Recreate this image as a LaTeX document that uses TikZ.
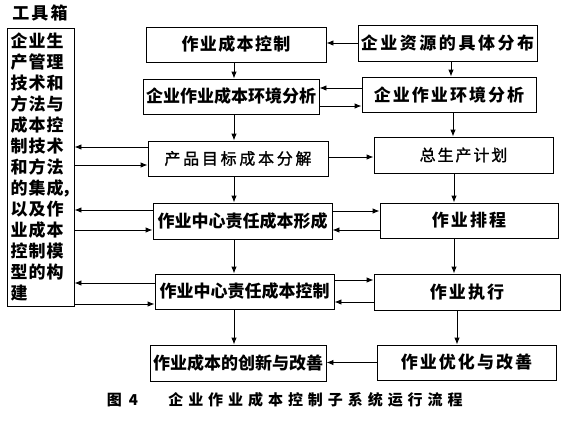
\documentclass[tikz,border=0pt]{standalone}
\usepackage{fontspec}
\setmainfont{Noto Sans CJK SC}
\newfontfamily\medfont{Noto Sans CJK SC}[FakeBold=1.2]
\usetikzlibrary{arrows.meta}
\newcommand\ls[2]{{\addfontfeature{LetterSpace=#1}#2}}
\begin{document}
\begin{tikzpicture}[x=1pt,y=-1pt,
  box/.style={draw, line width=0.9pt, inner sep=0pt, font=\bfseries\fontsize{17}{17}\selectfont},
  lbox/.style={box, font=\medfont\fontsize{16}{16}\selectfont},
  arr/.style={line width=0.9pt, -{Latex[length=7pt,width=5.5pt]}},
]
\useasboundingbox (0,0) rectangle (570,421);
% title
\node[font=\bfseries\fontsize{17}{17}\selectfont, inner sep=0pt] (title) at (40,13) {\ls{12}{工具箱}};
% toolbox
\node[box, minimum width=67pt, minimum height=278pt, text width=60pt, align=left,
      font=\bfseries\fontsize{17}{21}\selectfont] (tool) at (40.5,167)
 {\ls{6}{企业生}\\\ls{6}{产管理}\\\ls{6}{技术和}\\\ls{6}{方法与}\\\ls{6}{成本控}\\\ls{6}{制技术}\\\ls{6}{和方法}\\\ls{6}{的集成}\rlap{\kern-2pt，}\\\ls{6}{以及作}\\\ls{6}{业成本}\\\ls{6}{控制模}\\\ls{6}{型的构}\\建};
% boxes
\node[box, minimum width=180pt, minimum height=35pt] (b1) at (236,44.5) {\ls{8}{作业成本控制}};
\node[box, minimum width=179pt, minimum height=36pt] (b2) at (447.5,43) {\ls{15}{企业资源的具体分布}};
\node[box, minimum width=176pt, minimum height=35pt] (b3) at (231,96.5) {企业作业成本环境分析};
\node[box, minimum width=174pt, minimum height=35pt] (b4) at (449,94.5) {\ls{12}{企业作业环境分析}};
\node[lbox, minimum width=180pt, minimum height=35pt] (b5) at (238,158.5) {\ls{17}{产品目标成本分解}};
\node[lbox, minimum width=179pt, minimum height=36pt] (b6) at (463.5,155) {\ls{12}{总生产计划}};
\node[box, minimum width=179pt, minimum height=36pt] (b7) at (242.5,221) {作业中心责任成本形成};
\node[box, minimum width=178pt, minimum height=35pt] (b8) at (469,220.5) {\ls{12}{作业排程}};
\node[box, minimum width=179pt, minimum height=35pt] (b9) at (244.5,291.5) {作业中心责任成本控制};
\node[box, minimum width=186pt, minimum height=36pt] (b10) at (467,292) {\ls{12}{作业执行}};
\node[box, minimum width=176pt, minimum height=36pt] (b11) at (238,363) {作业成本的创新与改善};
\node[box, minimum width=179pt, minimum height=35pt] (b12) at (466.5,362.5) {\ls{12}{作业优化与改善}};
% column coordinates
\coordinate (L) at (234,0);
\coordinate (R1) at (451,0);
\coordinate (R2) at (453,0);
\coordinate (R3) at (454,0);
\coordinate (R4) at (457,0);
% vertical arrows
\draw[arr] (b1.south -| L) -- (b3.north -| L);
\draw[arr] (b3.south -| L) -- (b5.north -| L);
\draw[arr] (b5.south -| L) -- (b7.north -| L);
\draw[arr] (b7.south -| L) -- (b9.north -| L);
\draw[arr] (b9.south -| L) -- (b11.north -| L);
\draw[arr] (b2.south -| R1) -- (b4.north -| R1);
\draw[arr] (b4.south -| R2) -- (b6.north -| R2);
\draw[arr] (b6.south -| R3) -- (b8.north -| R3);
\draw[arr] (b8.south -| R3) -- (b10.north -| R3);
\draw[arr] (b10.south -| R4) -- (b12.north -| R4);
% horizontal arrows
\draw[arr] (b2.west) -- (b2.west -| b1.east);
\draw[arr] ([yshift=6.5pt]b4.west) -- ([yshift=6.5pt]b4.west -| b3.east);
\draw[arr] ([yshift=-11.5pt]b4.west -| b3.east) -- ([yshift=-11.5pt]b4.west);
\draw[arr] ([yshift=1.5pt]b5.east) -- ([yshift=1.5pt]b5.east -| b6.west);
\draw[arr] ([yshift=11.5pt]b5.west) -- ([yshift=11.5pt]b5.west -| tool.east);
\draw[arr] ([yshift=-6.5pt]b5.west -| tool.east) -- ([yshift=-6.5pt]b5.west);
\draw[arr] ([yshift=11pt]b7.west) -- ([yshift=11pt]b7.west -| tool.east);
\draw[arr] ([yshift=-9pt]b7.west -| tool.east) -- ([yshift=-9pt]b7.west);
\draw[arr] ([yshift=10pt]b7.east) -- ([yshift=10pt]b7.east -| b8.west);
\draw[arr] ([yshift=-9pt]b7.east -| b8.west) -- ([yshift=-9pt]b7.east);
\draw[arr] ([yshift=8.5pt]b9.west) -- ([yshift=8.5pt]b9.west -| tool.east);
\draw[arr] ([yshift=-12.5pt]b9.west -| tool.east) -- ([yshift=-12.5pt]b9.west);
\draw[arr] ([yshift=11.5pt]b9.east) -- ([yshift=11.5pt]b9.east -| b10.west);
\draw[arr] ([yshift=-10.5pt]b9.east -| b10.west) -- ([yshift=-10.5pt]b9.east);
\draw[arr] (b12.west) -- (b12.west -| b11.east);
% caption
\node[font=\bfseries\fontsize{15}{15}\selectfont, inner sep=0pt] (cap1) at (122.5,400) {图\hspace{7pt}4};
\node[font=\bfseries\fontsize{15}{15}\selectfont, inner sep=0pt] (cap2) at (315.5,400) {\ls{33}{企业作业成本控制子系统运行流程}};
\end{tikzpicture}
\end{document}
